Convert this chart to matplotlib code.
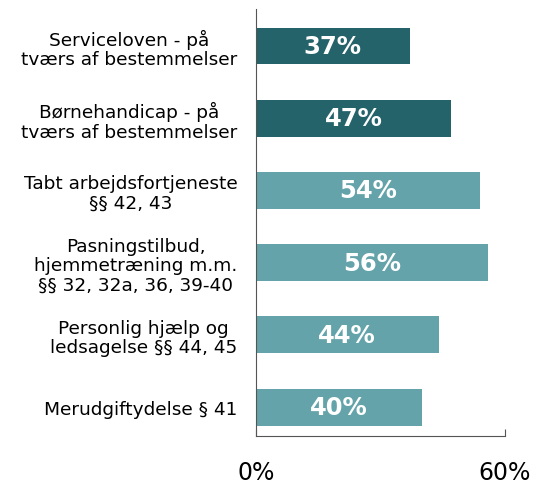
import numpy as np
import matplotlib.pyplot as plt

categories = ['Serviceloven - på\ntværs af bestemmelser',
              'Børnehandicap - på\ntværs af bestemmelser',
              'Tabt arbejdsfortjeneste\n§§ 42, 43',
              'Pasningstilbud,\nhjemmetræning m.m.\n§§ 32, 32a, 36, 39-40',
              'Personlig hjælp og\nledsagelse §§ 44, 45',
              'Merudgiftydelse § 41']
values = [37, 47, 54, 56, 44, 40]
colors = ['#25636a', '#25636a', '#64a3aa', '#64a3aa', '#64a3aa', '#64a3aa']
x_ticks = [0, 60]
x_labels = ['0%', '60%']

fig = plt.figure(figsize=(5.44, 4.85), dpi=100)
ax = fig.add_axes([0.4706, 0.099, 0.4577, 0.88])

y = np.arange(len(categories))
ax.barh(y, values, height=0.51, color=colors)
for yi, v in zip(y, values):
    ax.text(v / 2, yi, f'{v}%', ha='center', va='center', color='white',
            fontsize=17.5, fontweight='bold')

ax.set_ylim(5.4, -0.51)
ax.set_xlim(0, 60)
ax.set_yticks(y)
ax.set_yticklabels(categories, fontsize=13.3, ha='right',
                   multialignment='center', linespacing=1.1)
ax.tick_params(axis='y', length=0, pad=13.5)
ax.set_xticks(x_ticks)
ax.set_xticklabels(x_labels, fontsize=17)
ax.tick_params(axis='x', direction='in', length=5, pad=17, color='#555555')

for s in ['top', 'right']:
    ax.spines[s].set_visible(False)
ax.spines['left'].set_color('#555555')
ax.spines['bottom'].set_color('#555555')

fig.savefig('out.png', dpi=100)
